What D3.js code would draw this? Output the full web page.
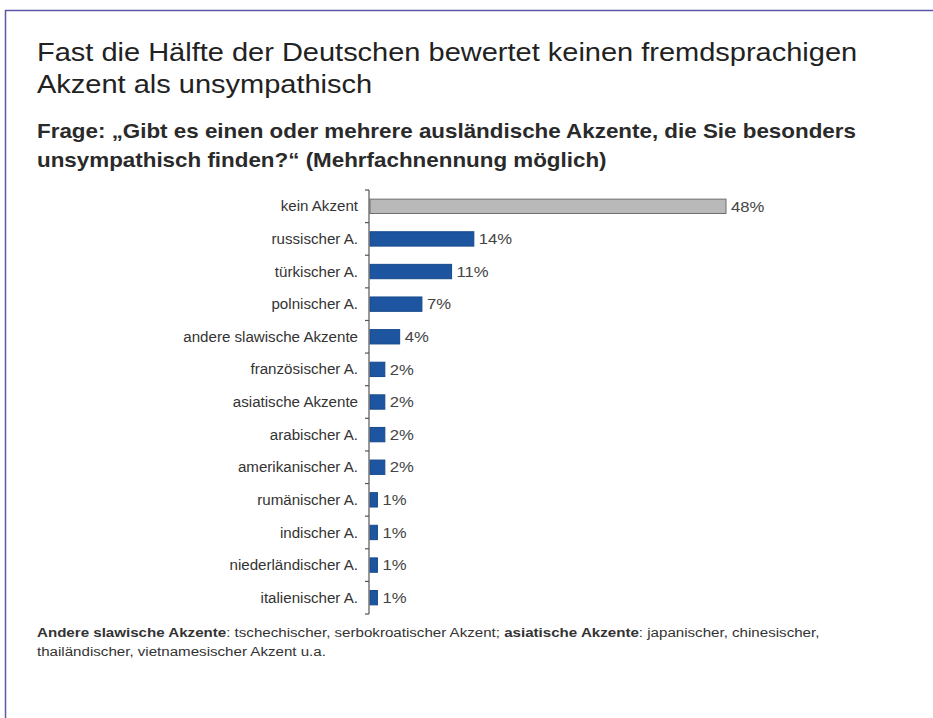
<!DOCTYPE html>
<html>
<head>
<meta charset="utf-8">
<script src="https://cdn.jsdelivr.net/npm/d3@7"></script>
<style>
  html, body { margin: 0; padding: 0; background: #fff; }
  svg { display: block; font-family: "Liberation Sans", Arial, Helvetica, sans-serif; }
</style>
</head>
<body>
<svg id="chart" width="933" height="718"></svg>
<script>
// Survey answers: accents rated as unlikeable (multiple answers possible)
const categories = [
  "kein Akzent", "russischer A.", "türkischer A.", "polnischer A.",
  "andere slawische Akzente", "französischer A.", "asiatische Akzente",
  "arabischer A.", "amerikanischer A.", "rumänischer A.", "indischer A.",
  "niederländischer A.", "italienischer A."
];
const values = [48, 14, 11, 7, 4, 2, 2, 2, 2, 1, 1, 1, 1];
const valueLabels = ["48%", "14%", "11%", "7%", "4%", "2%", "2%", "2%", "2%", "1%", "1%", "1%", "1%"];

const titleLines = [
  "Fast die Hälfte der Deutschen bewertet keinen fremdsprachigen",
  "Akzent als unsympathisch"
];
const subtitleLines = [
  "Frage: „Gibt es einen oder mehrere ausländische Akzente, die Sie besonders",
  "unsympathisch finden?“ (Mehrfachnennung möglich)"
];
const footnoteLine1 = [
  { text: "Andere slawische Akzente", bold: true },
  { text: ": tschechischer, serbokroatischer Akzent; ", bold: false },
  { text: "asiatische Akzente", bold: true },
  { text: ": japanischer, chinesischer,", bold: false }
];
const footnoteLine2 = "thailändischer, vietnamesischer Akzent u.a.";

const svg = d3.select("#chart");

// page frame: rule along the top and left edge
svg.append("line").attr("x1", 5).attr("x2", 933).attr("y1", 10.5).attr("y2", 10.5)
  .attr("stroke", "#5a5aa8").attr("stroke-width", 1.5);
svg.append("line").attr("x1", 5.5).attr("x2", 5.5).attr("y1", 10).attr("y2", 718)
  .attr("stroke", "#5a5aa8").attr("stroke-width", 1.5);

// text set in a slightly wide face: draw with a horizontal stretch
function wideText(parent, px, py, sx) {
  return parent.append("text")
    .attr("transform", `translate(${px},${py}) scale(${sx},1)`);
}

// headings
titleLines.forEach((t, i) => {
  wideText(svg, 37, 61 + i * 32, 1.16)
    .attr("font-size", 25).attr("fill", "#222").text(t);
});
subtitleLines.forEach((t, i) => {
  wideText(svg, 37, 138 + i * 29, 1.12)
    .attr("font-size", 20).attr("font-weight", "bold").attr("fill", "#2a2a2a").text(t);
});

// scales
const x = d3.scaleLinear().domain([0, 48]).range([370, 726]);
const y = d3.scaleBand().domain(categories).range([190, 614]).paddingInner(0.56).paddingOuter(0.28);

const step = y.step();
const g = svg.append("g");

// bars
g.selectAll("rect.bar").data(categories).join("rect")
  .attr("class", "bar")
  .attr("x", x(0))
  .attr("y", d => y(d))
  .attr("width", (d, i) => x(values[i]) - x(0))
  .attr("height", y.bandwidth())
  .attr("fill", (d, i) => i === 0 ? "#b9b9b9" : "#1d55a0")
  .attr("stroke", (d, i) => i === 0 ? "#6e6e6e" : "#164a8c")
  .attr("stroke-width", 1);

// vertical axis line with ticks between categories
const axisX = x(0) - 1;
g.append("line")
  .attr("x1", axisX).attr("x2", axisX)
  .attr("y1", y.range()[0]).attr("y2", y.range()[1])
  .attr("stroke", "#555").attr("stroke-width", 1.2);
const boundaries = categories.map(d => y(d) - (step - y.bandwidth()) / 2).concat([y.range()[1]]);
g.selectAll("line.tick").data(boundaries).join("line")
  .attr("class", "tick")
  .attr("x1", axisX - 4).attr("x2", axisX)
  .attr("y1", d => d).attr("y2", d => d)
  .attr("stroke", "#555").attr("stroke-width", 1.2);

// category labels
categories.forEach(c => {
  wideText(g, 358, y(c) + y.bandwidth() / 2, 1.08)
    .attr("dy", "0.36em").attr("text-anchor", "end")
    .attr("font-size", 14).attr("fill", "#333").text(c);
});

// value labels
categories.forEach((c, i) => {
  wideText(g, x(values[i]) + 5, y(c) + y.bandwidth() / 2, 1.15)
    .attr("dy", "0.36em")
    .attr("font-size", 14.5).attr("fill", "#444").text(valueLabels[i]);
});

// footnote
const fn1 = wideText(svg, 37, 637, 1.21).attr("font-size", 12.5).attr("fill", "#333");
fn1.selectAll("tspan").data(footnoteLine1).join("tspan")
  .attr("font-weight", d => d.bold ? "bold" : "normal")
  .text(d => d.text);
wideText(svg, 37, 656, 1.21).attr("font-size", 12.5).attr("fill", "#333").text(footnoteLine2);
</script>
</body>
</html>
